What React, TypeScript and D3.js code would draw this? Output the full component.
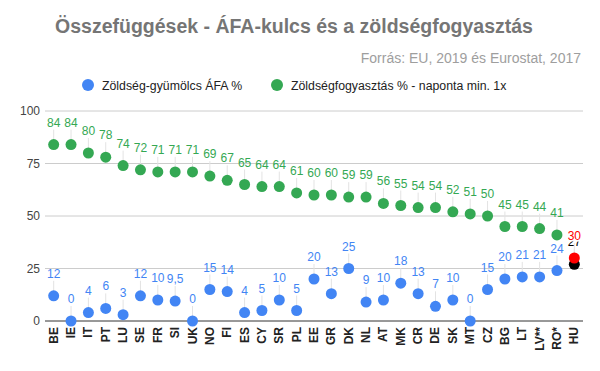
import React from 'react'
import * as d3 from 'd3'

const width = 600
const height = 371
const margin = { left: 45, right: 17, top: 111, bottom: 50 }

const countries = ['BE', 'IE', 'IT', 'PT', 'LU', 'SE', 'FR', 'SI', 'UK', 'NO', 'FI', 'ES', 'CY', 'SR', 'PL', 'EE', 'GR', 'DK', 'NL', 'AT', 'MK', 'CR', 'DE', 'SK', 'MT', 'CZ', 'BG', 'LT', 'LV**', 'RO*', 'HU']
const vatValues = [12, 0, 4, 6, 3, 12, 10, 9.5, 0, 15, 14, 4, 5, 10, 5, 20, 13, 25, 9, 10, 18, 13, 7, 10, 0, 15, 20, 21, 21, 24, 27]
const consumption = [84, 84, 80, 78, 74, 72, 71, 71, 71, 69, 67, 65, 64, 64, 61, 60, 60, 59, 59, 56, 55, 54, 54, 52, 51, 50, 45, 45, 44, 41, 30]
const yTicks = [0, 25, 50, 75, 100]

const blue = '#4285f4'
const green = '#34a853'
const font = 'Arial, "Liberation Sans", sans-serif'

const x = d3.scaleBand<string>()
  .domain(countries)
  .range([margin.left, width - margin.right])
const y = d3.scaleLinear()
  .domain([0, 100])
  .range([height - margin.bottom, margin.top])

const fmt = (v: number) => String(v).replace('.', ',')
const cxOf = (i: number) => x(countries[i])! + x.bandwidth() / 2

const Labels = ({ values, color, highlight }: { values: number[], color: string, highlight: string }) => (
  <g>
    {values.map((v, i) => {
      const cx = cxOf(i)
      const cy = y(v)
      const last = i === values.length - 1
      return (
        <g key={i}>
          <line x1={cx} x2={cx} y1={cy - 5} y2={cy - 15} stroke="#e3e3e3" strokeWidth={1} />
          <text x={cx} y={cy - 18} textAnchor="middle" fontSize={12} fill={last ? highlight : color}
            stroke="#fff" strokeWidth={last ? 3 : 0} paintOrder="stroke" fontFamily={font}>{fmt(v)}</text>
        </g>
      )
    })}
  </g>
)

const Dots = ({ values, color, highlight }: { values: number[], color: string, highlight: string }) => (
  <g>
    {values.map((v, i) => (
      <circle key={i} cx={cxOf(i)} cy={y(v)} r={5.5}
        fill={i === values.length - 1 ? highlight : color} />
    ))}
  </g>
)

export default function App() {
  return (
    <svg width={width} height={height} style={{ position: 'absolute', left: 0, top: 0 }}>
      <rect width={width} height={height} fill="#fff" />
      <text x={294} y={33} textAnchor="middle" fontSize={19.5} fontWeight="bold" fill="#757575" fontFamily={font}>
        Összefüggések - ÁFA-kulcs és a zöldségfogyasztás
      </text>
      <text x={581} y={63} textAnchor="end" fontSize={14} fill="#9e9e9e" fontFamily={font}>
        Forrás: EU, 2019 és Eurostat, 2017
      </text>
      <g fontFamily={font} fontSize={12.3} fill="#222">
        <circle cx={88} cy={85} r={6} fill={blue} />
        <text x={102} y={89.5}>Zöldség-gyümölcs ÁFA %</text>
        <circle cx={277} cy={85} r={6} fill={green} />
        <text x={291} y={89.5}>Zöldségfogyasztás % - naponta min. 1x</text>
      </g>
      {yTicks.map(t => (
        <g key={t}>
          <line x1={margin.left} x2={width - margin.right} y1={y(t)} y2={y(t)}
            stroke={t === 0 ? '#333' : '#ccc'} strokeWidth={1} />
          <text x={40} y={y(t) + 4} textAnchor="end" fontSize={12} fill="#444" fontFamily={font}>{t}</text>
        </g>
      ))}
      <Labels values={vatValues} color={blue} highlight="#000" />
      <Labels values={consumption} color={green} highlight="#ff0000" />
      <Dots values={vatValues} color={blue} highlight="#000" />
      <Dots values={consumption} color={green} highlight="#ff0000" />
      {countries.map((c, i) => (
        <text key={c} transform={`translate(${cxOf(i) + 4},${y(0) + 6}) rotate(-90)`} textAnchor="end"
          fontSize={12} fontWeight="bold" fill="#222" fontFamily={font}>{c}</text>
      ))}
    </svg>
  )
}
